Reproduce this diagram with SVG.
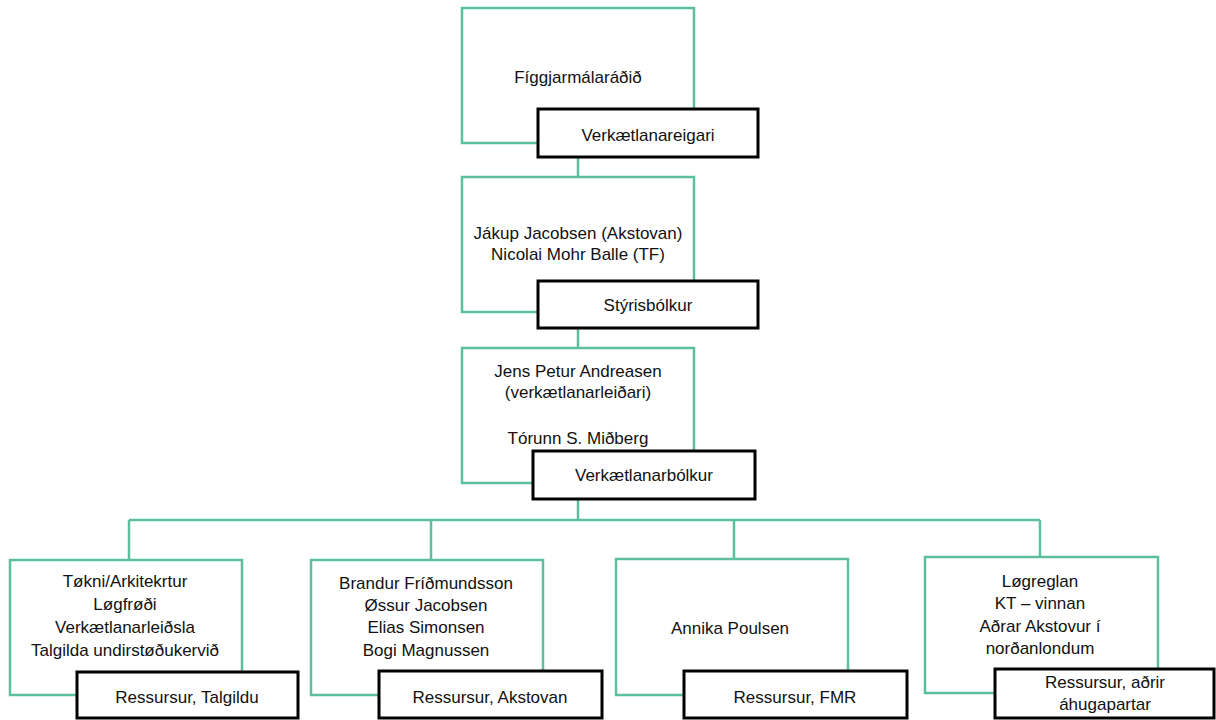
<svg xmlns="http://www.w3.org/2000/svg" width="1216" height="720" viewBox="0 0 1216 720">
<style>
.g{fill:#fff;stroke:#5cbf9f;stroke-width:2.5}
.b{fill:#fff;stroke:#000;stroke-width:3}
.c{fill:none;stroke:#5cbf9f;stroke-width:2.5}
text{font-family:"Liberation Sans",Arial,sans-serif;font-size:17px;fill:#111;text-anchor:middle}
</style>
<rect width="1216" height="720" fill="#fff"/>
<g id="connectors">
<path class="c" d="M578 157V177M578 328V348M578 499V520M129 520H1040M129 520V560M431 520V560M734 520V559M1040 520V557"/>
</g>
<g id="n1">
<rect class="g" x="462" y="8" width="232" height="135"/>
<text x="578" y="83">Fíggjarmálaráðið</text>
<rect class="b" x="538" y="109" width="220" height="48"/>
<text x="648" y="141">Verkætlanareigari</text>
</g>
<g id="n2">
<rect class="g" x="462" y="177" width="232" height="135"/>
<text x="578" y="239">Jákup Jacobsen (Akstovan)</text>
<text x="578" y="260">Nicolai Mohr Balle (TF)</text>
<rect class="b" x="538" y="281" width="220" height="47"/>
<text x="648" y="311">Stýrisbólkur</text>
</g>
<g id="n3">
<rect class="g" x="462" y="348" width="232" height="135"/>
<text x="578" y="377">Jens Petur Andreasen</text>
<text x="578" y="398">(verkætlanarleiðari)</text>
<text x="578" y="444">Tórunn S. Miðberg</text>
<rect class="b" x="533" y="451" width="222" height="48"/>
<text x="644" y="481">Verkætlanarbólkur</text>
</g>
<g id="n4">
<rect class="g" x="10" y="560" width="232" height="135"/>
<text x="125" y="587">Tøkni/Arkitekrtur</text>
<text x="125" y="610">Løgfrøði</text>
<text x="125" y="633">Verkætlanarleiðsla</text>
<text x="125" y="656">Talgilda undirstøðukervið</text>
<rect class="b" x="77" y="672" width="221" height="46"/>
<text x="187" y="703">Ressursur, Talgildu</text>
</g>
<g id="n5">
<rect class="g" x="311" y="560" width="232" height="135"/>
<text x="426" y="589">Brandur Fríðmundsson</text>
<text x="426" y="611">Øssur Jacobsen</text>
<text x="426" y="633">Elias Simonsen</text>
<text x="426" y="656">Bogi Magnussen</text>
<rect class="b" x="379" y="671" width="223" height="47"/>
<text x="490" y="703">Ressursur, Akstovan</text>
</g>
<g id="n6">
<rect class="g" x="616" y="559" width="232" height="136"/>
<text x="730" y="634">Annika Poulsen</text>
<rect class="b" x="684" y="671" width="223" height="47"/>
<text x="795" y="703">Ressursur, FMR</text>
</g>
<g id="n7">
<rect class="g" x="925" y="557" width="233" height="136"/>
<text x="1040" y="587">Løgreglan</text>
<text x="1040" y="609">KT – vinnan</text>
<text x="1040" y="632">Aðrar Akstovur í</text>
<text x="1040" y="654">norðanlondum</text>
<rect class="b" x="995" y="669" width="219" height="49"/>
<text x="1105" y="688">Ressursur, aðrir</text>
<text x="1105" y="710">áhugapartar</text>
</g>
</svg>
